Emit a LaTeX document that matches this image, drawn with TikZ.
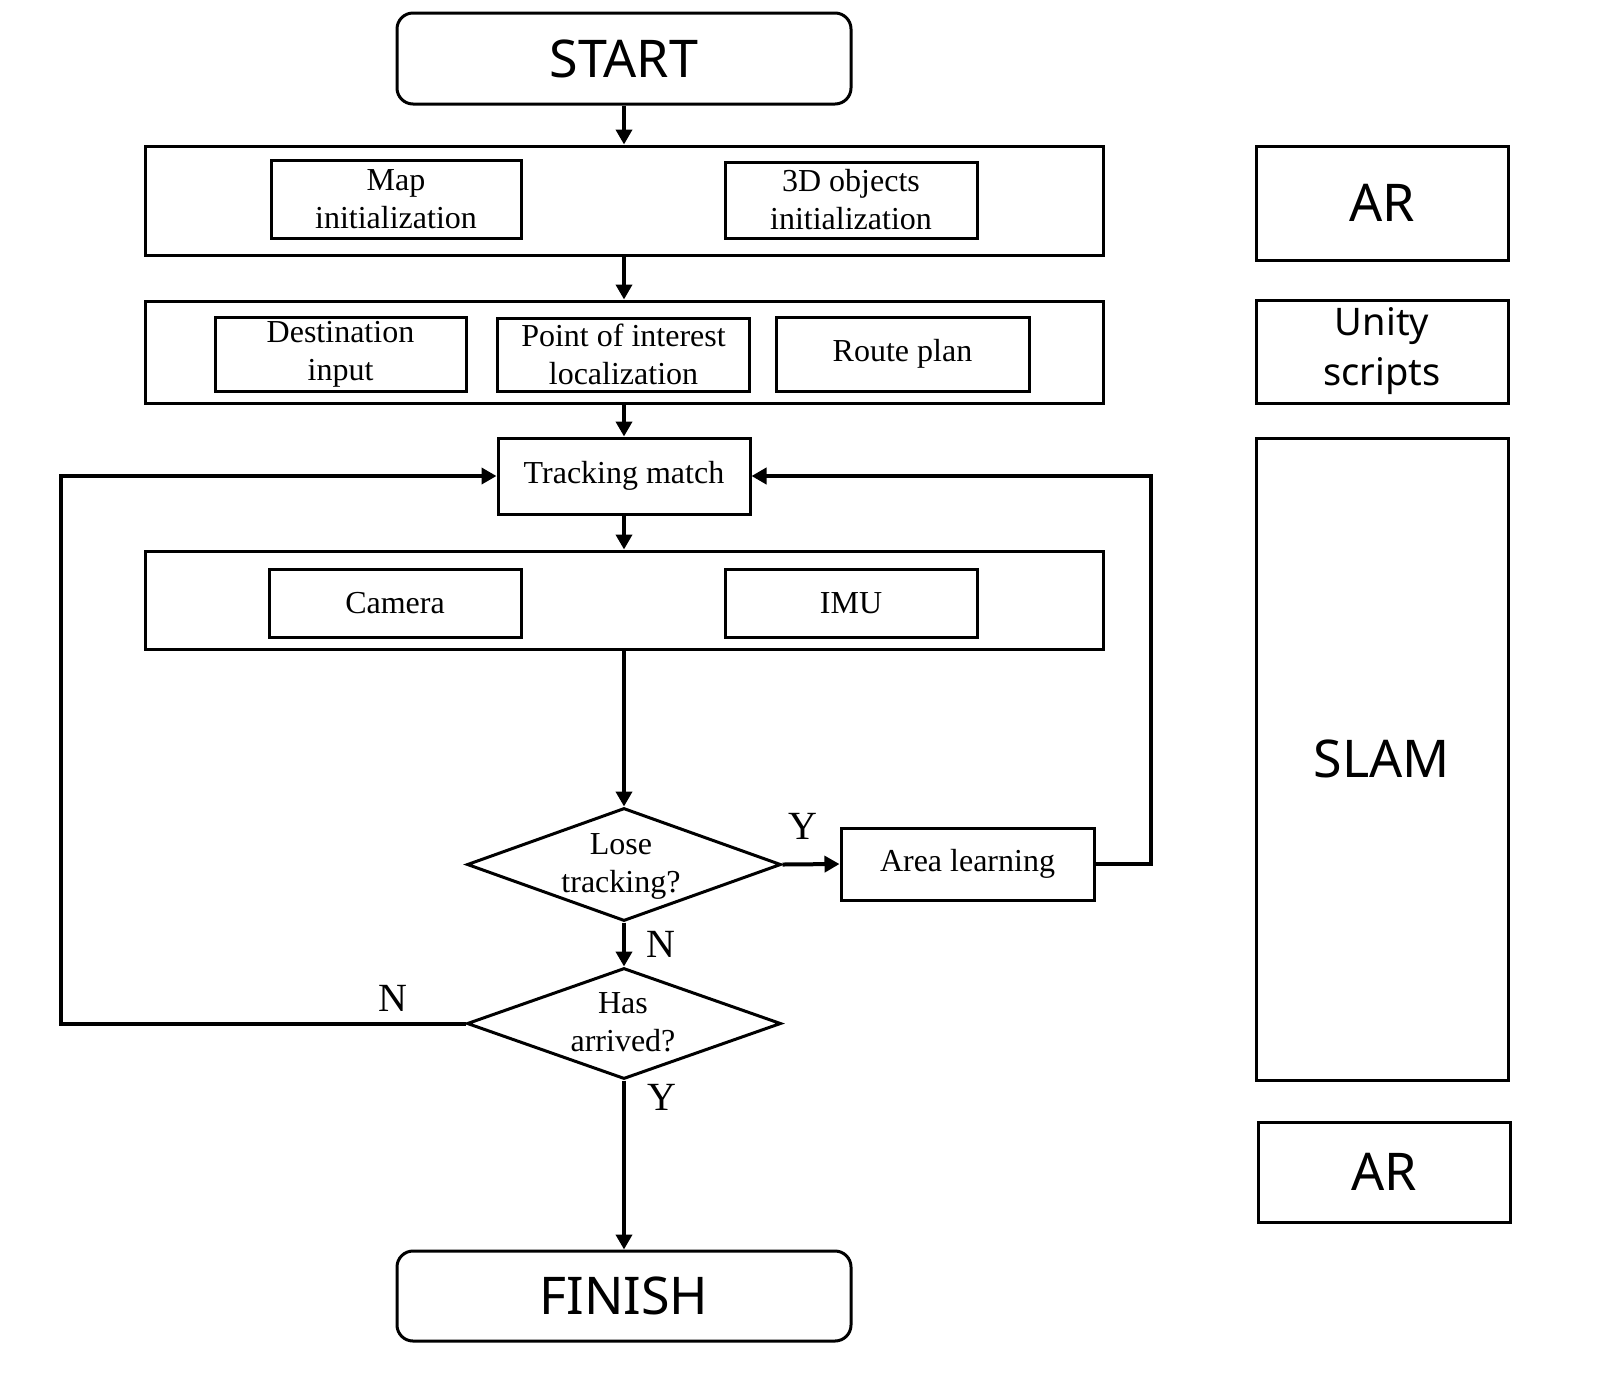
\documentclass[tikz,border=0pt]{standalone}
\usepackage{fontspec}
\setmainfont{Liberation Serif}
\newfontfamily\sansf{Noto Sans}
\usetikzlibrary{shapes.geometric,arrows.meta}
\begin{document}
\begin{tikzpicture}[x=0.5pt,y=-0.5pt,
  box/.style={draw, line width=1.5pt, rectangle, inner sep=0pt, align=center,
    font=\fontsize{16pt}{19pt}\selectfont},
  term/.style={box, rounded corners=8pt, font=\sansf\fontsize{26pt}{30pt}\selectfont},
  side/.style={box, font=\sansf\fontsize{26pt}{30pt}\selectfont},
  sidesmall/.style={box, font=\sansf\fontsize{19pt}{25pt}\selectfont},
  decision/.style={draw, line width=1.5pt, diamond, inner sep=0pt},
  txt/.style={inner sep=0pt, align=center, font=\fontsize{16pt}{19pt}\selectfont},
  lbl/.style={inner sep=0pt, font=\fontsize{20pt}{22pt}\selectfont},
  arr/.style={line width=2pt, -{Triangle[length=7.5pt,width=8pt]}}]
\useasboundingbox (0,0) rectangle (1600,1399);
\def\bx#1#2#3#4#5#6#7{\node[#1, minimum width=#4*0.5pt, minimum height=#5*0.5pt] (#2) at (#3,#6) {#7};}
% main column
\bx{term}{start}{624}{454}{91}{58.5}{START}
\bx{box}{g1}{624}{958}{109}{200.5}{}
\bx{box}{map}{396}{250}{78}{199}{Map\\initialization}
\bx{box}{obj}{851}{252}{76}{200}{3D objects\\initialization}
\bx{box}{g2}{624}{958}{102}{352}{}
\bx{box}{dest}{340.5}{251}{74}{354}{Destination\\input}
\bx{box}{poi}{623.5}{252}{73}{354.5}{Point of interest\\localization}
\bx{box}{route}{902.5}{253}{74}{354}{Route plan}
\bx{box}{track}{624}{252}{76}{476}{Tracking match}
\bx{box}{g3}{624}{958}{98}{600}{}
\bx{box}{cam}{395}{252}{68}{603}{Camera}
\bx{box}{imu}{851}{252}{68}{603}{IMU}
\bx{box}{area}{967.5}{253}{72}{864}{Area learning}
\node[decision, minimum width=157pt, minimum height=56.5pt] (d1) at (624,864.5) {};
\node[txt] (d1t) at (621,866) {Lose\\tracking?};
\node[decision, minimum width=157pt, minimum height=55.5pt] (d2) at (624,1023.5) {};
\node[txt] (d2t) at (623,1022) {Has\\arrived?};
\bx{term}{finish}{624}{454}{90}{1296}{FINISH}
% side column
\bx{side}{ar1}{1382}{252}{114}{203}{AR}
\bx{sidesmall}{unity}{1382}{252}{103}{351.5}{Unity\\scripts}
\bx{side}{slam}{1382}{252}{642}{759}{SLAM}
\bx{side}{ar2}{1384}{252}{100}{1172}{AR}
% connectors
\draw[arr] (start.south) -- (start.south |- g1.north);
\draw[arr] (g1.south) -- (g1.south |- g2.north);
\draw[arr] (track.north |- g2.south) -- (track.north);
\draw[arr] (track.south) -- (track.south |- g3.north);
\draw[arr] (track.south |- g3.south) -- (d1.north);
\draw[arr] (d1.east) -- (area.west);
\draw[arr] (d1.south) -- (d2.north);
\draw[arr] (d2.south) -- (finish.north);
\draw[arr] (area.east) -- ++(55,0) |- (track.east);
\draw[arr] (d2.west) -- ++(-405,0) |- (track.west);
% labels
\node[lbl] (ly1) at (803,826) {Y};
\node[lbl] (ln1) at (661,944) {N};
\node[lbl] (ln2) at (393,998) {N};
\node[lbl] (ly2) at (662,1097) {Y};
\end{tikzpicture}
\end{document}
